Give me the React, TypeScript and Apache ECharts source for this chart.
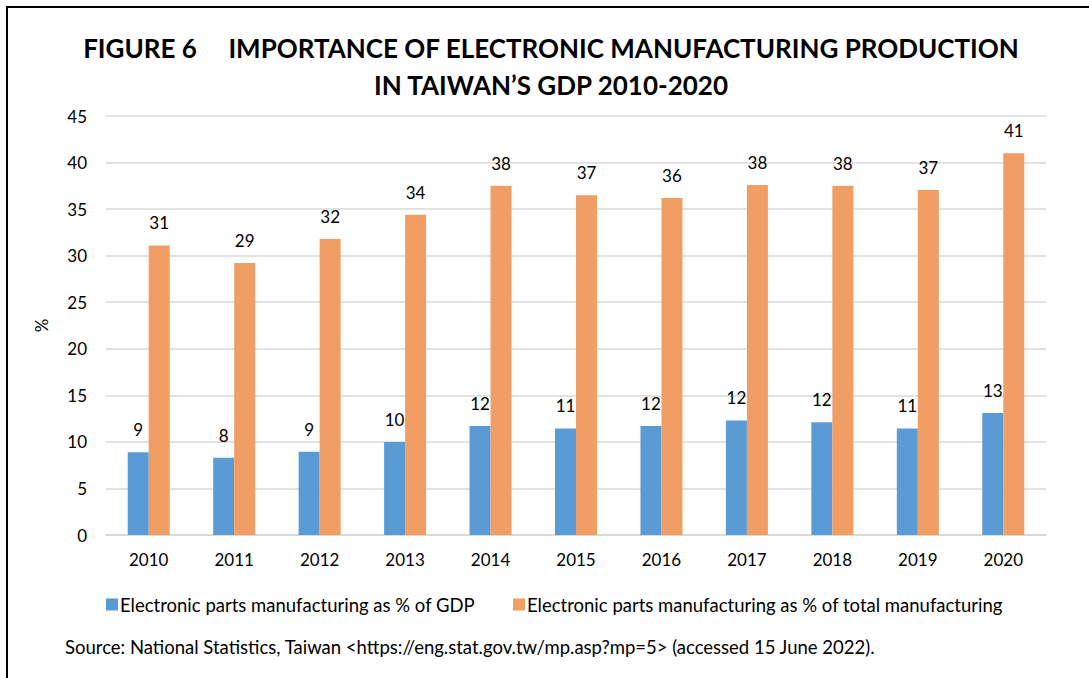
import React, { useEffect, useRef } from "react";
import * as echarts from "echarts";

const years = ["2010", "2011", "2012", "2013", "2014", "2015", "2016", "2017", "2018", "2019", "2020"];
const gdpShare = [8.9, 8.3, 8.95, 10.0, 11.7, 11.45, 11.7, 12.3, 12.1, 11.45, 13.1];
const mfgShare = [31.1, 29.2, 31.8, 34.4, 37.5, 36.5, 36.2, 37.6, 37.5, 37.05, 41.0];
const seriesNames = [
  "Electronic parts manufacturing as % of GDP",
  "Electronic parts manufacturing as % of total manufacturing",
];
const titleLines = [
  "FIGURE 6     IMPORTANCE OF ELECTRONIC MANUFACTURING PRODUCTION",
  "IN TAIWAN\u2019S GDP 2010-2020",
];
const sourceText =
  "Source: National Statistics, Taiwan <https://eng.stat.gov.tw/mp.asp?mp=5> (accessed 15 June 2022).";

const FONT = "Lato, 'Open Sans', sans-serif";

export default function App() {
  const ref = useRef<HTMLDivElement>(null);
  useEffect(() => {
    if (!ref.current) return;
    const chart = echarts.init(ref.current, null, { renderer: "svg" });
    const labelCfg = {
      show: true,
      position: "top" as const,
      distance: 14,
      fontSize: 17,
      fontFamily: FONT,
      color: "#000",
      formatter: (p: any) => String(Math.round(p.value)),
    };
    const legendText = { fontSize: 18.5, fontFamily: FONT, color: "#000", padding: [0, 0, 0, -3] };
    chart.setOption({
      animation: false,
      backgroundColor: "#fff",
      textStyle: { fontFamily: FONT },
      graphic: [
        {
          type: "rect",
          shape: { x: 7, y: 7, width: 1200, height: 800 },
          style: { fill: "none", stroke: "#000", lineWidth: 2 },
          silent: true,
        },
        {
          type: "text",
          x: 551,
          y: 48,
          style: {
            text: titleLines[0],
            font: `bold 26px ${FONT}`,
            fill: "#000",
            textAlign: "center",
            textVerticalAlign: "middle",
          },
        },
        {
          type: "text",
          x: 551,
          y: 85,
          style: {
            text: titleLines[1],
            font: `bold 26px ${FONT}`,
            fill: "#000",
            textAlign: "center",
            textVerticalAlign: "middle",
          },
        },
        {
          type: "text",
          x: 65,
          y: 647,
          style: {
            text: sourceText,
            font: `18.5px ${FONT}`,
            fill: "#000",
            textAlign: "left",
            textVerticalAlign: "middle",
          },
        },
      ],
      legend: [
        {
          data: [seriesNames[0]],
          left: 101,
          top: 590,
          itemWidth: 12,
          itemHeight: 12,
          itemGap: 4,
          icon: "rect",
          textStyle: legendText,
        },
        {
          data: [seriesNames[1]],
          left: 508,
          top: 590,
          itemWidth: 12,
          itemHeight: 12,
          icon: "rect",
          textStyle: legendText,
        },
      ],
      grid: { left: 106, right: 43, top: 116, bottom: 143, containLabel: false },
      xAxis: {
        type: "category",
        data: years,
        axisLine: { lineStyle: { color: "#D9D9D9", width: 2 } },
        axisTick: { show: false },
        axisLabel: { fontSize: 17, fontFamily: FONT, color: "#000", margin: 16 },
      },
      yAxis: {
        type: "value",
        min: 0,
        max: 45,
        interval: 5,
        name: "%",
        nameLocation: "middle",
        nameGap: 56,
        nameRotate: 90,
        nameTextStyle: { fontSize: 17, fontFamily: FONT, color: "#000" },
        axisLine: { show: false },
        axisTick: { show: false },
        axisLabel: { fontSize: 17, fontFamily: FONT, color: "#000", margin: 19 },
        splitLine: { lineStyle: { color: "#D9D9D9", width: 1.5 } },
      },
      series: [
        {
          name: seriesNames[0],
          type: "bar",
          data: gdpShare,
          barWidth: 21,
          barGap: "0%",
          itemStyle: { color: "#5B9BD5" },
          label: labelCfg,
        },
        {
          name: seriesNames[1],
          type: "bar",
          data: mfgShare,
          barWidth: 21,
          barGap: "0%",
          itemStyle: { color: "#F19E65" },
          label: labelCfg,
        },
      ],
    });
    return () => chart.dispose();
  }, []);
  return <div ref={ref} style={{ width: 1089, height: 678, position: "absolute", left: 0, top: 0 }} />;
}
